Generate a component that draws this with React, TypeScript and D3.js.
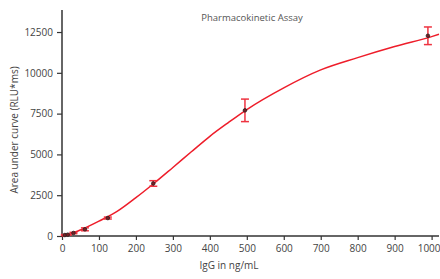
import * as d3 from 'd3';
import React, { useRef, useEffect } from 'react';

// measured concentrations (ng/mL) and area under curve (RLU*ms)
const conc = [7.7, 15.5, 31, 62, 124, 247, 495, 990]
const auc = [60, 80, 184, 410, 1100, 3220, 7700, 12270]
const aucErr = [30, 30, 40, 90, 60, 170, 690, 540]

// fitted curve
const fitX = [0, 25, 50, 100, 150, 200, 250, 300, 350, 400, 450, 500, 600, 700, 800, 900, 1000, 1020]
const fitY = [0, 150, 370, 910, 1520, 2350, 3250, 4200, 5160, 6110, 6950, 7750, 9080, 10180, 10930, 11610, 12220, 12360]

const xTicks = [0, 100, 200, 300, 400, 500, 600, 700, 800, 900, 1000]
const yTicks = [0, 2500, 5000, 7500, 10000, 12500]

const W = 440
const H = 279
const FONT = '"Open Sans", sans-serif'

export default function App() {
    const ref = useRef<SVGSVGElement>(null)

    useEffect(() => {
        const svg = d3.select(ref.current)
        svg.selectAll('*').remove()

        const x = d3.scaleLinear().domain([0, 1020]).range([62, 439])
        const y = d3.scaleLinear().domain([0, 13850]).range([236, 10])
        const fmt = d3.format('d')

        // axes
        const xAxis = svg.append('g')
            .attr('transform', 'translate(0,236)')
            .call(d3.axisBottom(x).tickValues(xTicks).tickFormat(fmt).tickSize(4).tickPadding(5))
        const yAxis = svg.append('g')
            .attr('transform', 'translate(62,0)')
            .call(d3.axisLeft(y).tickValues(yTicks).tickFormat(fmt).tickSize(5).tickPadding(4))

        for (const ax of [xAxis, yAxis]) {
            ax.select('.domain').attr('stroke', '#333').attr('stroke-width', 1.5)
            ax.selectAll('.tick line').attr('stroke', '#333').attr('stroke-width', 1.2)
            ax.selectAll('.tick text')
                .attr('fill', '#444')
                .style('font-family', FONT)
                .style('font-size', '10px')
        }
        // keep the last x label inside the picture
        xAxis.selectAll('.tick text').filter(d => d === 1000).attr('dx', -3)
        // no outer ticks on the domain paths
        xAxis.select('.domain').attr('d', `M${x(0)},0H${x(1020)}`)
        yAxis.select('.domain').attr('d', `M0,${y(0)}V${y(13850)}`)

        // fitted curve
        const pts = fitX.map((v, i) => [v, fitY[i]] as [number, number])
        svg.append('path')
            .datum(pts)
            .attr('fill', 'none')
            .attr('stroke', '#ee1d2a')
            .attr('stroke-width', 1.5)
            .attr('d', d3.line<[number, number]>()
                .x(d => x(d[0]))
                .y(d => y(d[1]))
                .curve(d3.curveMonotoneX))

        // error bars
        const bars = svg.append('g')
            .attr('stroke', '#ee3340')
            .attr('stroke-width', 1.5)
        conc.forEach((c, i) => {
            const cx = x(c)
            const top = y(auc[i] + aucErr[i])
            const bot = y(auc[i] - aucErr[i])
            bars.append('line').attr('x1', cx).attr('x2', cx).attr('y1', top).attr('y2', bot)
            bars.append('line').attr('x1', cx - 4).attr('x2', cx + 4).attr('y1', top).attr('y2', top)
            bars.append('line').attr('x1', cx - 4).attr('x2', cx + 4).attr('y1', bot).attr('y2', bot)
        })

        // points
        svg.append('g')
            .selectAll('circle')
            .data(conc)
            .join('circle')
            .attr('cx', d => x(d))
            .attr('cy', (d, i) => y(auc[i]))
            .attr('r', 1.8)
            .attr('fill', '#7a1d22')
            .attr('stroke', '#222')
            .attr('stroke-width', 0.8)

        // title and labels
        svg.append('text')
            .attr('x', 252)
            .attr('y', 21)
            .attr('text-anchor', 'middle')
            .attr('fill', '#555')
            .style('font-family', FONT)
            .style('font-size', '9.5px')
            .text('Pharmacokinetic Assay')

        svg.append('text')
            .attr('x', 229)
            .attr('y', 269)
            .attr('text-anchor', 'middle')
            .attr('fill', '#444')
            .style('font-family', FONT)
            .style('font-size', '10px')
            .text('IgG in ng/mL')

        svg.append('text')
            .attr('transform', 'translate(18,130) rotate(-90)')
            .attr('text-anchor', 'middle')
            .attr('fill', '#444')
            .style('font-family', FONT)
            .style('font-size', '10px')
            .text('Area under curve (RLU*ms)')
    }, [])

    return (
        <svg ref={ref} width={W} height={H}
            style={{ position: 'absolute', left: 0, top: 0, background: '#fff' }} />
    )
}
